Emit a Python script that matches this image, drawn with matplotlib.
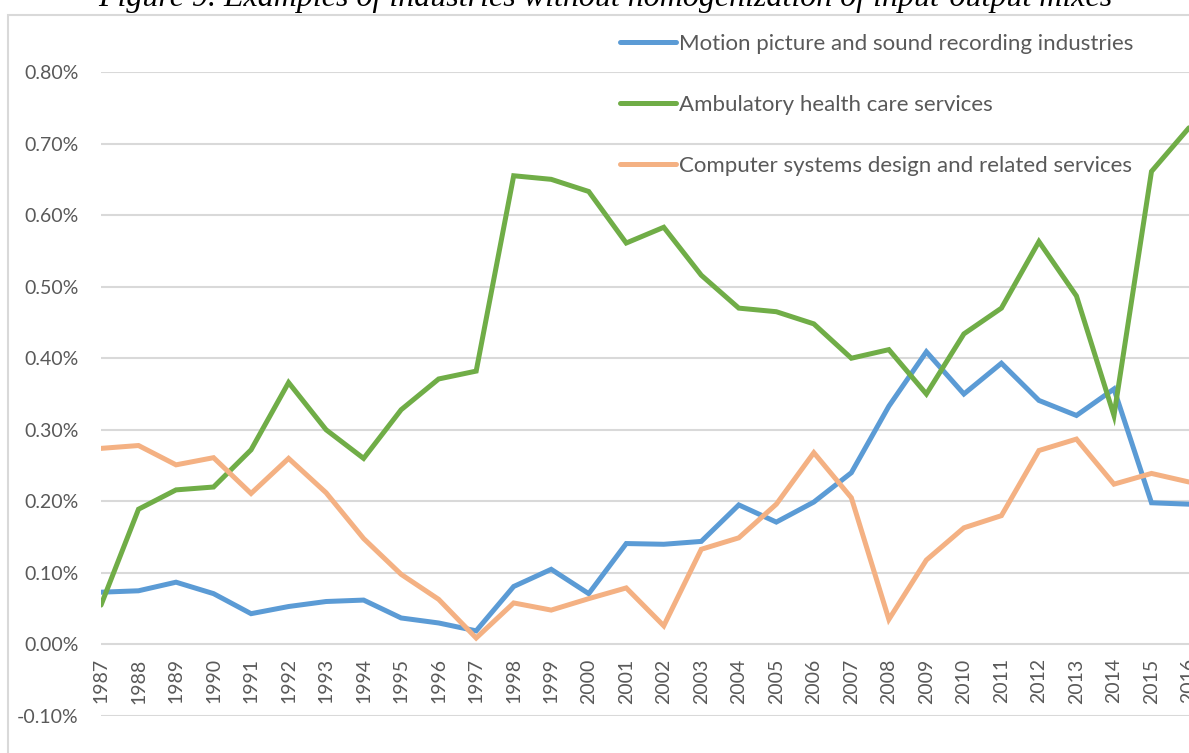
import matplotlib
matplotlib.use("Agg")
import matplotlib.pyplot as plt
from matplotlib.patches import Rectangle
from matplotlib.ticker import FuncFormatter

years = list(range(1987, 2017))
motion = [0.073, 0.075, 0.087, 0.071, 0.043, 0.053, 0.060, 0.062, 0.037, 0.030,
          0.019, 0.081, 0.105, 0.071, 0.141, 0.140, 0.144, 0.195, 0.171, 0.199,
          0.240, 0.333, 0.409, 0.350, 0.393, 0.341, 0.320, 0.357, 0.198, 0.196]
ambulatory = [0.055, 0.189, 0.216, 0.220, 0.272, 0.366, 0.300, 0.260, 0.328, 0.371,
              0.382, 0.655, 0.650, 0.633, 0.561, 0.583, 0.516, 0.470, 0.465, 0.448,
              0.400, 0.412, 0.350, 0.434, 0.470, 0.563, 0.487, 0.320, 0.661, 0.722]
computer = [0.274, 0.278, 0.251, 0.261, 0.211, 0.260, 0.212, 0.148, 0.098, 0.063,
            0.009, 0.058, 0.048, 0.064, 0.079, 0.026, 0.133, 0.149, 0.196, 0.268,
            0.205, 0.035, 0.118, 0.163, 0.180, 0.271, 0.287, 0.224, 0.239, 0.227]
names = ["Motion picture and sound recording industries",
         "Ambulatory health care services",
         "Computer systems design and related services"]
colors = ["#5b9bd5", "#70ad47", "#f4b183"]
yticks = [-0.1, 0.0, 0.1, 0.2, 0.3, 0.4, 0.5, 0.6, 0.7, 0.8]

txt = "#595959"
grid = "#d9d9d9"
W, H = 1189, 753

plt.rcParams['font.family'] = ['Lato', 'DejaVu Sans']
fig = plt.figure(figsize=(W / 100, H / 100), dpi=100)
fig.patch.set_facecolor('white')

# outer chart frame (partly cropped in the source)
fig.add_artist(Rectangle((8 / W, -0.1), 2.0, 1 - 15 / H + 0.1, transform=fig.transFigure,
                         fill=False, edgecolor=grid, linewidth=1.5))

# title, cut off at the top
fig.text(605 / W, 1 - 6 / H, "Figure 9. Examples of industries without homogenization of input-output mixes",
         ha='center', va='baseline', fontsize=23, style='italic',
         family='Liberation Serif', color='black')

left, right = 101, 1189
top, bottom = 72, 716
ax = fig.add_axes([left / W, 1 - bottom / H, (right - left) / W, (bottom - top) / H])
ax.set_xlim(1987, 2016)
ax.set_ylim(-0.1, 0.8)

for vals, name, c in zip([motion, ambulatory, computer], names, colors):
    ax.plot(years, vals, color=c, linewidth=3.6, label=name,
            solid_joinstyle='miter', solid_capstyle='round')

for s in ax.spines.values():
    s.set_visible(False)
ax.set_yticks(yticks)
ax.yaxis.set_major_formatter(FuncFormatter(lambda v, p: "%.2f%%" % v))
ax.grid(axis='y', color=grid, linewidth=1.5)
ax.set_axisbelow(True)
ax.tick_params(axis='y', length=0, pad=16, labelsize=14, labelcolor=txt)
ax.set_xticks([])

for yr in years:
    ax.annotate(str(yr), (yr, 0), xytext=(0, -10), textcoords='offset points',
                ha='center', va='top', rotation=90, fontsize=14, color=txt,
                annotation_clip=False)

leg = fig.legend(loc='upper left', bbox_to_anchor=(620 / W, 1 - 34 / H),
                 frameon=False, fontsize=16, labelcolor=txt, handlelength=2.52,
                 handletextpad=0.13, labelspacing=1.84, borderpad=0, borderaxespad=0)

fig.savefig("out.png", dpi=100)
